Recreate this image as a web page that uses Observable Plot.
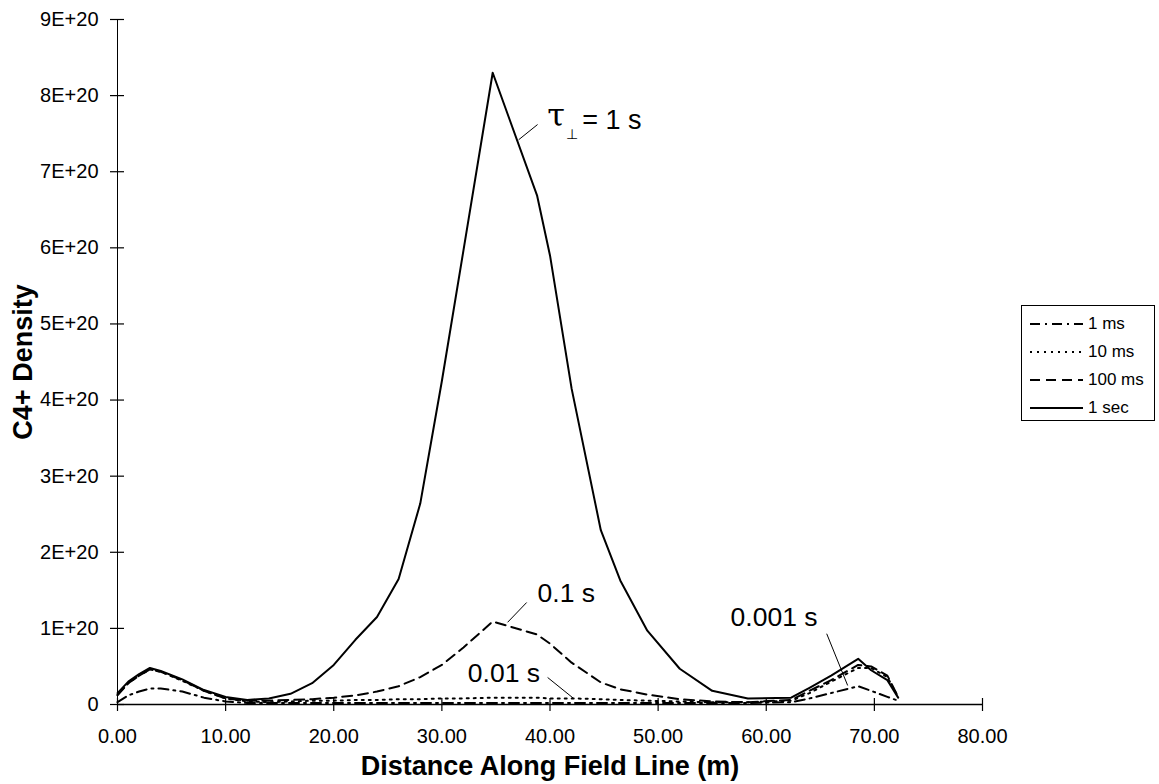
<!DOCTYPE html>
<html><head><meta charset="utf-8">
<script src="https://cdn.jsdelivr.net/npm/d3@7"></script>
<script src="https://cdn.jsdelivr.net/npm/@observablehq/plot@0.6"></script>
<style>
body{margin:0;background:#fff;font-family:"Liberation Sans",Arial,sans-serif;}
#wrap{position:relative;width:1159px;height:784px;overflow:hidden;}
#legend{position:absolute;left:1021px;top:305px;width:134px;height:116px;border:1px solid #000;background:#fff;box-sizing:border-box;}
.row{position:absolute;left:6px;height:20px;display:flex;align-items:center;font-size:17px;color:#000;}
.row svg{margin-right:4px;}
</style></head><body><div id="wrap"><div id="legend"></div></div>
<script>
// Distance along field line (m)
const distance = [0, 1, 2, 3, 4, 6, 8, 10, 12, 14, 16, 18, 20, 22, 24, 26, 28, 30, 32, 34.7, 38.8, 40, 42, 44.7, 46.5, 49, 52, 55, 58.3, 62.3, 64, 66, 68.5, 69.7, 71.2, 72.2];
// C4+ density, in units of 1E+20
const dens1ms   = [0.03, 0.12, 0.17, 0.21, 0.21, 0.17, 0.09, 0.04, 0.02, 0.02, 0.02, 0.02, 0.02, 0.02, 0.02, 0.02, 0.02, 0.02, 0.02, 0.02, 0.02, 0.02, 0.02, 0.02, 0.02, 0.02, 0.02, 0.02, 0.02, 0.03, 0.08, 0.15, 0.24, 0.18, 0.10, 0.05];
const dens10ms  = [0.13, 0.28, 0.38, 0.46, 0.43, 0.31, 0.18, 0.08, 0.04, 0.03, 0.04, 0.05, 0.05, 0.06, 0.06, 0.07, 0.07, 0.08, 0.08, 0.09, 0.09, 0.08, 0.08, 0.07, 0.06, 0.05, 0.04, 0.03, 0.03, 0.05, 0.15, 0.30, 0.48, 0.48, 0.36, 0.10];
const dens100ms = [0.12, 0.28, 0.38, 0.46, 0.43, 0.32, 0.18, 0.08, 0.05, 0.05, 0.06, 0.07, 0.09, 0.12, 0.17, 0.24, 0.36, 0.52, 0.75, 1.09, 0.92, 0.80, 0.55, 0.29, 0.20, 0.13, 0.07, 0.04, 0.03, 0.06, 0.18, 0.32, 0.52, 0.50, 0.38, 0.10];
const dens1sec  = [0.15, 0.30, 0.40, 0.48, 0.44, 0.33, 0.19, 0.10, 0.06, 0.08, 0.14, 0.28, 0.52, 0.85, 1.15, 1.65, 2.64, 4.25, 5.97, 8.30, 6.69, 5.90, 4.15, 2.29, 1.63, 0.97, 0.47, 0.18, 0.08, 0.09, 0.22, 0.38, 0.60, 0.45, 0.32, 0.09];
const seriesNames = ["1 ms", "10 ms", "100 ms", "1 sec"];
const xTicks = [0, 10, 20, 30, 40, 50, 60, 70, 80];
const yTicks = [0, 1, 2, 3, 4, 5, 6, 7, 8, 9];
// annotation labels (data coordinates)
const annoText = ["0.1 s", "0.01 s", "0.001 s"];
const annoX = [38.85, 32.4, 56.7];
const annoY = [1.46, 0.41, 1.14];
const leaderX1 = [38.85, 37.84, 39.78, 65.59];
const leaderY1 = [7.62, 1.34, 0.355, 0.93];
const leaderX2 = [37.1, 36.08, 42.18, 67.53];
const leaderY2 = [7.42, 1.08, 0.08, 0.25];
const tauX = 39.75, tauY = 7.67;

const dashes = ["10,5,2,5", "2,5", "10,6", null];
const seriesVals = [dens1ms, dens10ms, dens100ms, dens1sec];
const tables = seriesVals.map(vals => distance.map((x, i) => ({x, y: vals[i]})));
const annos = annoText.map((t, i) => ({t, x: annoX[i], y: annoY[i]}));
const leaders = leaderX1.map((x1, i) => ({x1, y1: leaderY1[i], x2: leaderX2[i], y2: leaderY2[i]}));

const font = "Liberation Sans, Arial, Helvetica, sans-serif";
const plot = Plot.plot({
  width: 1159, height: 784,
  marginLeft: 117, marginRight: 177, marginTop: 19, marginBottom: 80,
  style: {fontFamily: font, fontSize: "20px", color: "#000", background: "transparent", overflow: "visible"},
  x: {domain: [0, 80]},
  y: {domain: [0, 9]},
  marks: [
    Plot.ruleX([0], {y1: 0, y2: 9, stroke: "#000", strokeWidth: 1}),
    Plot.ruleY([0], {x1: 0, x2: 80, stroke: "#000", strokeWidth: 1.6}),
    Plot.axisX({ticks: xTicks, tickFormat: d => d.toFixed(2), tickSize: 13, dy: -6, tickPadding: 17, label: null, fontSize: 20, strokeWidth: 1.2}),
    Plot.axisY({ticks: yTicks, tickFormat: d => d === 0 ? "0" : d + "E+20", tickSize: 14, dx: 7, tickPadding: 12, label: null, fontSize: 20, strokeWidth: 1.2}),
    ...tables.map((t, i) => Plot.line(t, {x: "x", y: "y", stroke: "#000", strokeWidth: 2, strokeDasharray: dashes[i] || undefined, strokeLinejoin: "round"})),
    Plot.link(leaders, {x1: "x1", y1: "y1", x2: "x2", y2: "y2", stroke: "#000", strokeWidth: 1}),
    Plot.text(annos, {x: "x", y: "y", text: "t", textAnchor: "start", fontSize: 26.5}),
    Plot.text([tauX], {x: d => d, y: () => tauY, text: () => "τ", textAnchor: "start", fontSize: 32, dy: -5, fontFamily: "DejaVu Serif, serif"}),
    Plot.text([tauX], {x: d => d, y: () => tauY, text: () => "⊥", textAnchor: "start", fontSize: 14, dx: 19, dy: 14}),
    Plot.text([tauX], {x: d => d, y: () => tauY, text: () => "= 1 s", textAnchor: "start", fontSize: 27, dx: 35}),
    Plot.text(["C4+ Density"], {frameAnchor: "left", textAnchor: "middle", lineAnchor: "middle", rotate: -90, dx: -94, fontSize: 27, fontWeight: "bold"}),
    Plot.text(["Distance Along Field Line (m)"], {frameAnchor: "bottom", textAnchor: "middle", lineAnchor: "middle", dy: 62, fontSize: 27, fontWeight: "bold"})
  ]
});
const wrap = document.getElementById("wrap");
wrap.insertBefore(plot, wrap.firstChild);

const legend = document.getElementById("legend");
seriesNames.forEach((name, i) => {
  const row = document.createElement("div");
  row.className = "row";
  row.style.top = (8 + i * 28) + "px";
  const dash = dashes[i] ? `stroke-dasharray="${dashes[i]}"` : "";
  row.innerHTML = `<svg width="56" height="10"><line x1="2" y1="5" x2="55" y2="5" stroke="#000" stroke-width="2" ${dash}/></svg><span>${name}</span>`;
  legend.appendChild(row);
});
</script></body></html>
